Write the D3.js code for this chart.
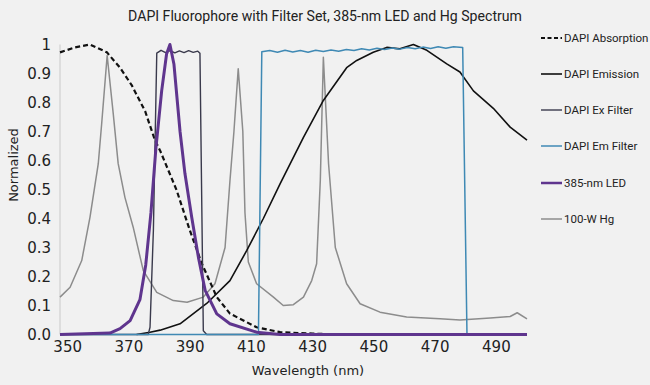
<!DOCTYPE html>
<html>
<head>
<meta charset="utf-8">
<script src="https://cdn.jsdelivr.net/npm/d3@7"></script>
<style>
  body { margin: 0; background: #f1f1f1; }
  svg { display: block; }
</style>
</head>
<body>
<div id="chart"></div>
<script>
// values (wavelength in nm, normalized value)
var absWl  = [347.5, 352.4, 357.3, 362.8, 367.1, 370.9, 375.3, 378.5, 380.2, 385.6, 389.9, 393.8, 398.7, 403.0, 411.7, 419.4, 430.1, 440, 500];
var absVal = [0.973, 0.99, 1.0, 0.973, 0.92, 0.86, 0.77, 0.67, 0.634, 0.497, 0.359, 0.245, 0.129, 0.072, 0.025, 0.008, 0.003, 0, 0];

var emWl  = [372.5, 376.9, 380.2, 386.7, 395.4, 403.0, 408.5, 413.9, 419.4, 427.0, 433.5, 441.1, 444.4, 449.8, 454.2, 458.5, 462.9, 467.3, 473.8, 478.1, 482.5, 489.0, 494.5, 500];
var emVal = [0, 0.008, 0.015, 0.037, 0.107, 0.186, 0.29, 0.40, 0.52, 0.68, 0.807, 0.92, 0.945, 0.973, 0.99, 0.985, 1.0, 0.98, 0.933, 0.905, 0.84, 0.78, 0.715, 0.67];

var exWl  = [347.5, 376.3, 376.9, 378.0, 379.1, 380.5, 382, 383.5, 385, 386.5, 388, 389.5, 391, 392.5, 393.2, 394.3, 395.4, 500];
var exVal = [0, 0, 0.025, 0.36, 0.97, 0.98, 0.972, 0.979, 0.971, 0.978, 0.972, 0.979, 0.973, 0.977, 0.97, 0.013, 0, 0];

var emfWl  = [347.5, 412.3, 413.4, 416, 418.5, 421, 423.5, 426, 428.5, 431, 433.5, 436, 438.5, 441, 443.5, 446, 448.5, 451, 453.5, 456, 458.5, 461, 463.5, 466, 468.5, 471, 473.5, 476, 479.0, 480.4, 500];
var emfVal = [0, 0, 0.975, 0.979, 0.973, 0.98, 0.974, 0.979, 0.973, 0.98, 0.976, 0.981, 0.977, 0.983, 0.979, 0.985, 0.981, 0.987, 0.983, 0.988, 0.984, 0.99, 0.985, 0.991, 0.986, 0.992, 0.987, 0.992, 0.99, 0, 0];

var ledWl  = [347.5, 363.8, 367.1, 370.4, 373.6, 375.5, 377.2, 378.8, 380.7, 382.3, 383.4, 384.7, 386.7, 388.3, 390.5, 392.7, 394.9, 398.7, 403.0, 411.7, 419.4, 500];
var ledVal = [0, 0.005, 0.02, 0.048, 0.12, 0.24, 0.42, 0.64, 0.84, 0.967, 1.0, 0.933, 0.70, 0.555, 0.405, 0.266, 0.152, 0.071, 0.037, 0.008, 0, 0];

var hgWl  = [347.5, 350.8, 354.6, 357.3, 360.0, 361.1, 362.9, 364.9, 366.5, 368.7, 371.4, 374.7, 379.1, 384.5, 389.0, 394.3, 398.1, 401.4, 403.0, 404.3, 405.7, 407.2, 407.9, 409.0, 411.7, 417.2, 420.4, 423.7, 427.0, 429.7, 431.3, 432.5, 433.5, 435.2, 437.4, 441.1, 445.5, 452.0, 460.7, 471.6, 478.1, 488.0, 494.5, 496.8, 500];
var hgVal = [0.129, 0.163, 0.255, 0.405, 0.589, 0.726, 0.962, 0.76, 0.589, 0.473, 0.37, 0.22, 0.145, 0.117, 0.111, 0.129, 0.175, 0.30, 0.53, 0.70, 0.916, 0.70, 0.42, 0.25, 0.175, 0.129, 0.10, 0.103, 0.129, 0.186, 0.244, 0.53, 0.956, 0.589, 0.30, 0.175, 0.106, 0.077, 0.06, 0.054, 0.05, 0.057, 0.062, 0.075, 0.054];

var xTicks = [350, 370, 390, 410, 430, 450, 470, 490];
var yTicks = [0, 0.1, 0.2, 0.3, 0.4, 0.5, 0.6, 0.7, 0.8, 0.9, 1];

var names = ["DAPI Absorption", "DAPI Emission", "DAPI Ex Filter", "DAPI Em Filter", "385-nm LED", "100-W Hg"];

function zip(wl, v) {
	return wl.map(function(w, i) { return {wl: w, v: v[i]}; });
}

// draw order: Hg underneath, LED on top
var series = [
	{name: names[5], data: zip(hgWl, hgVal),   color: "#8c8c8c", width: 1.5, dash: null},
	{name: names[0], data: zip(absWl, absVal), color: "#111111", width: 2.2, dash: "5,3"},
	{name: names[1], data: zip(emWl, emVal),   color: "#111111", width: 1.6, dash: null},
	{name: names[2], data: zip(exWl, exVal),   color: "#3a3a4c", width: 1.4, dash: null},
	{name: names[3], data: zip(emfWl, emfVal), color: "#3f89b4", width: 1.5, dash: null},
	{name: names[4], data: zip(ledWl, ledVal), color: "#5f358e", width: 3, dash: null}
];

var W = 650, H = 385;
var margin = {top: 44.5, left: 60, right: 123, bottom: 50.5};
var width = W - margin.left - margin.right,
	height = H - margin.top - margin.bottom;

var svg = d3.select("#chart").append("svg")
	.attr("width", W)
	.attr("height", H);

svg.append("rect").attr("width", W).attr("height", H).attr("fill", "#f1f1f1");

var g = svg.append("g")
	.attr("transform", "translate(" + margin.left + "," + margin.top + ")");

var x = d3.scaleLinear().domain([347.5, 500]).range([0, width]);
var y = d3.scaleLinear().domain([0, 1]).range([height, 0]);

// y axis line
g.append("line")
	.attr("x1", 0).attr("x2", 0)
	.attr("y1", 0).attr("y2", height)
	.attr("stroke", "#c9c9c9").attr("stroke-width", 1);

// x axis line
g.append("line")
	.attr("x1", 0).attr("x2", width)
	.attr("y1", height).attr("y2", height)
	.attr("stroke", "#9fc3d8").attr("stroke-width", 1);

// tick labels
g.selectAll(".ytick")
	.data(yTicks)
	.enter()
	.append("text")
	.attr("class", "ytick")
	.attr("x", -9)
	.attr("y", function(d) { return y(d); })
	.attr("dy", "0.36em")
	.attr("text-anchor", "end")
	.style("font-family", "DejaVu Sans")
	.style("font-size", "15px")
	.attr("fill", "#222")
	.text(function(d) { return d === 1 ? "1" : d.toFixed(1); });

g.selectAll(".xtick")
	.data(xTicks)
	.enter()
	.append("text")
	.attr("class", "xtick")
	.attr("x", function(d) { return x(d); })
	.attr("y", height + 17)
	.attr("text-anchor", "middle")
	.style("font-family", "DejaVu Sans")
	.style("font-size", "15px")
	.attr("fill", "#222")
	.text(function(d) { return d; });

var line = d3.line()
	.x(function(d) { return x(d.wl); })
	.y(function(d) { return y(d.v); });

series.forEach(function(s) {
	g.append("path")
		.datum(s.data)
		.attr("fill", "none")
		.attr("stroke", s.color)
		.attr("stroke-width", s.width)
		.attr("stroke-dasharray", s.dash)
		.attr("stroke-linejoin", "round")
		.attr("d", line);
});

// titles
var title = svg.append("text")
	.attr("x", 325)
	.attr("y", 21)
	.attr("text-anchor", "middle")
	.style("font-family", "Roboto")
	.style("font-size", "15px")
	.attr("fill", "#222")
	.text("DAPI Fluorophore with Filter Set, 385-nm LED and Hg Spectrum");
// fit the title to the width it has in the picture
var tl = title.node().getComputedTextLength();
if (tl > 0) title.style("font-size", (15 * 394 / tl).toFixed(2) + "px");

svg.append("text")
	.attr("x", 308)
	.attr("y", 375)
	.attr("text-anchor", "middle")
	.style("font-family", "DejaVu Sans")
	.style("font-size", "13px")
	.attr("fill", "#222")
	.text("Wavelength (nm)");

svg.append("text")
	.attr("transform", "translate(18,165)rotate(-90)")
	.attr("text-anchor", "middle")
	.style("font-family", "DejaVu Sans")
	.style("font-size", "13px")
	.attr("fill", "#222")
	.text("Normalized");

// legend
var legendOrder = [1, 2, 3, 4, 5, 0].map(function(i) { return series[i]; });
var legY = [38, 74, 110, 146, 183, 219];
var leg = svg.append("g");
legendOrder.forEach(function(s, i) {
	leg.append("line")
		.attr("x1", 541).attr("x2", 562)
		.attr("y1", legY[i]).attr("y2", legY[i])
		.attr("stroke", s.color)
		.attr("stroke-width", Math.min(s.width, 2.5))
		.attr("stroke-dasharray", s.dash ? "4,2.5" : null);
	leg.append("text")
		.attr("x", 564)
		.attr("y", legY[i])
		.attr("dy", "0.35em")
		.style("font-family", "Roboto")
		.style("font-size", "11.5px")
		.attr("fill", "#222")
		.text(s.name);
});
</script>
</body>
</html>
